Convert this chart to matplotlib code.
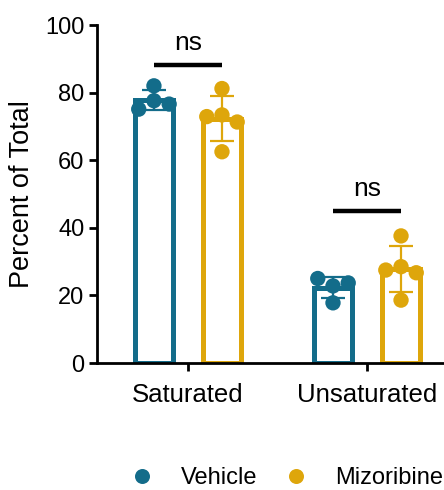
import numpy as np
import matplotlib
matplotlib.use("Agg")
import matplotlib.pyplot as plt
from matplotlib.lines import Line2D

plt.rcParams['font.family'] = ['Liberation Sans', 'DejaVu Sans']

# data
groups = ["Saturated", "Unsaturated"]
series = ["Vehicle", "Mizoribine"]
colors = ["#136c8a", "#dea60b"]

vehicle_sat = [82.0, 77.6, 75.1, 76.6]
vehicle_unsat = [25.0, 22.8, 23.7, 17.8]
miz_sat = [81.2, 73.4, 72.9, 71.3, 62.5]
miz_unsat = [37.6, 28.5, 27.5, 26.7, 18.6]
values = [[vehicle_sat, vehicle_unsat], [miz_sat, miz_unsat]]

# horizontal scatter layout of the dots inside each bar (GraphPad style)
jitter_miz = [0.0, 0.0, -0.085, 0.085, 0.0]
jitter_veh = [[0.0, 0.0, -0.085, 0.085], [-0.085, 0.0, 0.085, 0.0]]

sig_labels = ["ns", "ns"]
sig_heights = [88.2, 45.0]

fig = plt.figure(figsize=(4.44, 4.90), dpi=100)
ax = fig.add_axes([97 / 444, 127 / 490, 347 / 444, 338 / 490])

x = np.arange(len(groups))
offset = 0.19
width = 0.21

for s, name in enumerate(series):
    xs = x + (s - 0.5) * 2 * offset
    for g in range(len(groups)):
        pts = np.array(values[s][g])
        m = pts.mean()
        sd = pts.std(ddof=1)
        ax.bar(xs[g], m, width=width, facecolor="white", edgecolor=colors[s],
               linewidth=3.6, zorder=2)
        ax.errorbar(xs[g], m, yerr=sd, color=colors[s], elinewidth=1.6,
                    capsize=8.5, capthick=1.6, zorder=3)
        jit = jitter_veh[g] if s == 0 else jitter_miz
        ax.scatter(xs[g] + np.array(jit), pts, s=122, color=colors[s],
                   edgecolors="none", zorder=4, clip_on=False)

for g in range(len(groups)):
    x0 = x[g] - offset
    x1 = x[g] + offset
    ax.plot([x0, x1], [sig_heights[g]] * 2, color="black", lw=3.2,
            solid_capstyle="butt", zorder=5)
    ax.text(x[g], sig_heights[g] + 2.8, sig_labels[g], ha="center",
            va="bottom", fontsize=19)

ax.set_xlim(-0.508, 1.43)
ax.set_ylim(0, 100)
ax.set_yticks([0, 20, 40, 60, 80, 100])
ax.set_xticks(x)
ax.set_xticklabels(groups)
ax.set_ylabel("Percent of Total", fontsize=19.5, labelpad=7)

for side in ["top", "right"]:
    ax.spines[side].set_visible(False)
for side in ["left", "bottom"]:
    ax.spines[side].set_linewidth(2.0)
ax.tick_params(axis="both", width=2.0, length=6, labelsize=17, pad=3)
ax.tick_params(axis="x", labelsize=18.5, pad=8.5)

handles = [Line2D([], [], marker="o", linestyle="none", markersize=10.8,
                  markerfacecolor=c, markeredgecolor="none") for c in colors]
fig.legend(handles, series, loc="center left", bbox_to_anchor=(130 / 444, 0.024),
           ncol=2, frameon=False, fontsize=17, handlelength=1.0,
           handletextpad=1.15, columnspacing=1.15, borderpad=0,
           borderaxespad=0)

fig.savefig("out.png", dpi=100)
